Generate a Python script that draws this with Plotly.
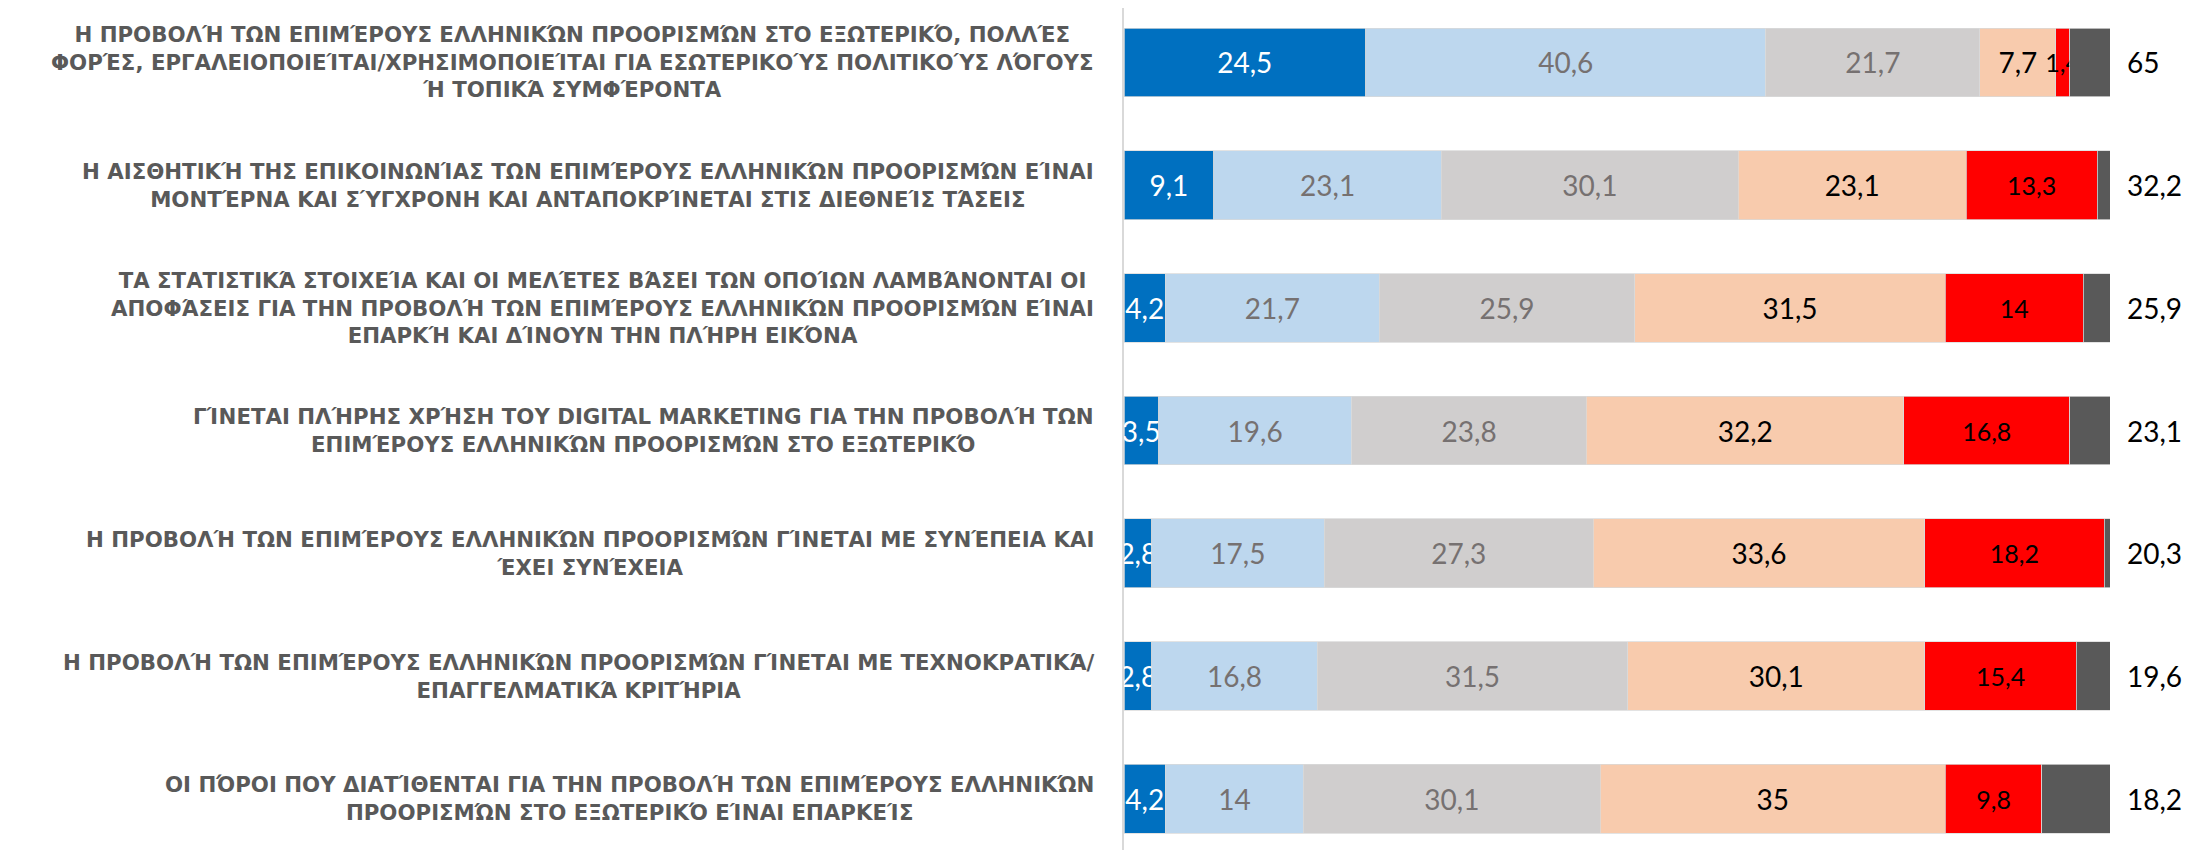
import plotly.graph_objects as go

categories = [
    "Η ΠΡΟΒΟΛΉ ΤΩΝ ΕΠΙΜΈΡΟΥΣ ΕΛΛΗΝΙΚΏΝ ΠΡΟΟΡΙΣΜΏΝ ΣΤΟ ΕΞΩΤΕΡΙΚΌ, ΠΟΛΛΈΣ<br>ΦΟΡΈΣ, ΕΡΓΑΛΕΙΟΠΟΙΕΊΤΑΙ/ΧΡΗΣΙΜΟΠΟΙΕΊΤΑΙ ΓΙΑ ΕΣΩΤΕΡΙΚΟΎΣ ΠΟΛΙΤΙΚΟΎΣ ΛΌΓΟΥΣ<br>Ή ΤΟΠΙΚΆ ΣΥΜΦΈΡΟΝΤΑ",
    "Η ΑΙΣΘΗΤΙΚΉ ΤΗΣ ΕΠΙΚΟΙΝΩΝΊΑΣ ΤΩΝ ΕΠΙΜΈΡΟΥΣ ΕΛΛΗΝΙΚΏΝ ΠΡΟΟΡΙΣΜΏΝ ΕΊΝΑΙ<br>ΜΟΝΤΈΡΝΑ ΚΑΙ ΣΎΓΧΡΟΝΗ ΚΑΙ ΑΝΤΑΠΟΚΡΊΝΕΤΑΙ ΣΤΙΣ ΔΙΕΘΝΕΊΣ ΤΆΣΕΙΣ",
    "ΤΑ ΣΤΑΤΙΣΤΙΚΆ ΣΤΟΙΧΕΊΑ ΚΑΙ ΟΙ ΜΕΛΈΤΕΣ ΒΆΣΕΙ ΤΩΝ ΟΠΟΊΩΝ ΛΑΜΒΆΝΟΝΤΑΙ ΟΙ<br>ΑΠΟΦΆΣΕΙΣ ΓΙΑ ΤΗΝ ΠΡΟΒΟΛΉ ΤΩΝ ΕΠΙΜΈΡΟΥΣ ΕΛΛΗΝΙΚΏΝ ΠΡΟΟΡΙΣΜΏΝ ΕΊΝΑΙ<br>ΕΠΑΡΚΉ ΚΑΙ ΔΊΝΟΥΝ ΤΗΝ ΠΛΉΡΗ ΕΙΚΌΝΑ",
    "ΓΊΝΕΤΑΙ ΠΛΉΡΗΣ ΧΡΉΣΗ ΤΟΥ DIGITAL MARKETING ΓΙΑ ΤΗΝ ΠΡΟΒΟΛΉ ΤΩΝ<br>ΕΠΙΜΈΡΟΥΣ ΕΛΛΗΝΙΚΏΝ ΠΡΟΟΡΙΣΜΏΝ ΣΤΟ ΕΞΩΤΕΡΙΚΌ",
    "Η ΠΡΟΒΟΛΉ ΤΩΝ ΕΠΙΜΈΡΟΥΣ ΕΛΛΗΝΙΚΏΝ ΠΡΟΟΡΙΣΜΏΝ ΓΊΝΕΤΑΙ ΜΕ ΣΥΝΈΠΕΙΑ ΚΑΙ<br>ΈΧΕΙ ΣΥΝΈΧΕΙΑ",
    "Η ΠΡΟΒΟΛΉ ΤΩΝ ΕΠΙΜΈΡΟΥΣ ΕΛΛΗΝΙΚΏΝ ΠΡΟΟΡΙΣΜΏΝ ΓΊΝΕΤΑΙ ΜΕ ΤΕΧΝΟΚΡΑΤΙΚΆ/<br>ΕΠΑΓΓΕΛΜΑΤΙΚΆ ΚΡΙΤΉΡΙΑ",
    "ΟΙ ΠΌΡΟΙ ΠΟΥ ΔΙΑΤΊΘΕΝΤΑΙ ΓΙΑ ΤΗΝ ΠΡΟΒΟΛΉ ΤΩΝ ΕΠΙΜΈΡΟΥΣ ΕΛΛΗΝΙΚΏΝ<br>ΠΡΟΟΡΙΣΜΏΝ ΣΤΟ ΕΞΩΤΕΡΙΚΌ ΕΊΝΑΙ ΕΠΑΡΚΕΊΣ",
]

s1 = [24.5, 9.1, 4.2, 3.5, 2.8, 2.8, 4.2]
s2 = [40.6, 23.1, 21.7, 19.6, 17.5, 16.8, 14]
s3 = [21.7, 30.1, 25.9, 23.8, 27.3, 31.5, 30.1]
s4 = [7.7, 23.1, 31.5, 32.2, 33.6, 30.1, 35]
s5 = [1.4, 13.3, 14, 16.8, 18.2, 15.4, 9.8]
s6 = [4.1, 1.3, 2.7, 4.1, 0.6, 3.4, 6.9]
totals = [65, 32.2, 25.9, 23.1, 20.3, 19.6, 18.2]

series = [
    (s1, "#0070C0", "white", 28, True),
    (s2, "#BDD7EE", "#767171", 28, True),
    (s3, "#D0CECE", "#767171", 28, True),
    (s4, "#F8CBAD", "black", 28, True),
    (s5, "#FF0000", "black", 25, True),
    (s6, "#595959", "white", 22, False),
]

def fmt(v):
    return ("%g" % v).replace(".", ",")

NUMFONT = "Lato, Calibri, Carlito, 'Open Sans', sans-serif"

fig = go.Figure()
for vals, color, tcolor, tsize, show in series:
    fig.add_trace(go.Bar(
        y=categories, x=vals, orientation="h",
        marker=dict(color=color, line=dict(color="#d9d9d9", width=0.75)),
        text=[fmt(v) for v in vals] if show else None,
        texttemplate="%{text}" if show else None,
        textposition="inside" if show else "none",
        insidetextanchor="middle",
        textangle=0,
        constraintext="none",
        textfont=dict(family=NUMFONT, size=tsize, color=tcolor),
        showlegend=False,
        hoverinfo="skip",
    ))

annotations = []
for cat, tot in zip(categories, totals):
    annotations.append(dict(
        x=0, xref="paper", y=cat, yref="y",
        text=cat, showarrow=False, xanchor="right", yanchor="middle",
        xshift=-28, align="center",
        font=dict(family="'DejaVu Sans', sans-serif", size=21.3, color="#595959", weight="bold"),
    ))
    annotations.append(dict(
        x=100, xref="x", y=cat, yref="y",
        text=fmt(tot), showarrow=False, xanchor="left", yanchor="middle",
        xshift=15,
        font=dict(family=NUMFONT, size=28, color="black"),
    ))

fig.update_layout(
    width=2187, height=842,
    barmode="stack", bargap=0.44,
    margin=dict(l=1116, r=85, t=0, b=0),
    plot_bgcolor="white", paper_bgcolor="white",
    xaxis=dict(range=[0, 100], showgrid=False, zeroline=False, showticklabels=False,
               showline=False, fixedrange=True),
    yaxis=dict(range=[6.418, -0.444], showticklabels=False, showgrid=False,
               zeroline=False, showline=True, linecolor="#d9d9d9", linewidth=1.5,
               ticks=""),
    annotations=annotations,
)

fig.write_html("out.html")
